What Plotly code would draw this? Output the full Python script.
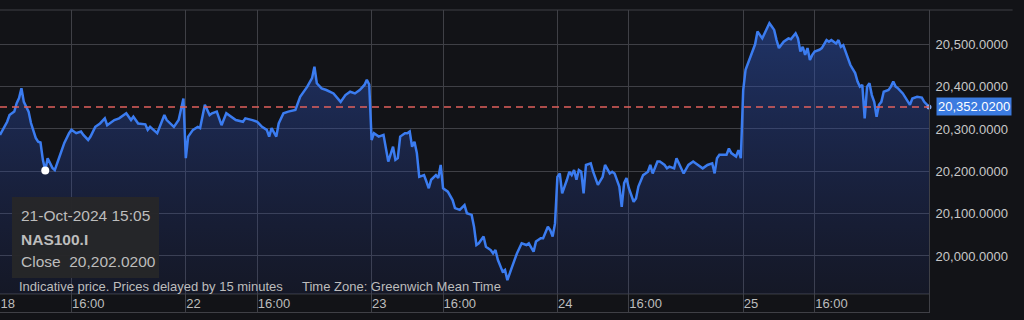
import plotly.graph_objects as go

# ---------------- data ----------------
session_dates = ["2024-10-21", "2024-10-22", "2024-10-23", "2024-10-24", "2024-10-25"]
session_open = "13:30"
session_length_min = 390

times_21 = ["13:30","13:45","13:50","14:00","14:05","14:10","14:15","14:20","14:30","14:35","14:45","14:50",
            "14:55","15:00","15:05","15:10","15:20","15:25","15:35","15:45","15:55","16:00","16:10","16:20",
            "16:25","16:35","16:40","16:50","17:00","17:10","17:15","17:30","17:40","17:55","18:05","18:10",
            "18:20","18:35","18:40","18:45","19:00","19:15","19:20","19:35","19:45","19:55"]
close_21 = [20286,20317,20333,20341,20361,20373,20396,20364,20341,20314,20279,20270,
            20268,20227,20202.02,20231,20208,20203,20235,20267,20290,20298,20290,20294,
            20286,20274,20282,20305,20313,20325,20309,20321,20325,20337,20321,20329,
            20313,20311,20298,20305,20290,20333,20321,20305,20321,20372]

times_22 = ["13:30","13:35","13:45","13:55","14:00","14:10","14:20","14:25","14:35","14:45","14:55","15:05",
            "15:15","15:30","15:35","15:50","16:00","16:10","16:20","16:25","16:30","16:40","16:45","16:55",
            "17:05","17:20","17:30","17:45","17:55","18:00","18:05","18:15","18:25","18:40","18:55","19:05",
            "19:15","19:25","19:35","19:45","19:50","19:55"]
close_22 = [20231,20282,20298,20305,20302,20357,20333,20337,20341,20309,20337,20329,
            20321,20317,20325,20321,20317,20305,20298,20282,20302,20282,20313,20337,
            20341,20345,20376,20400,20420,20447,20408,20396,20392,20384,20364,20380,
            20388,20384,20392,20404,20416,20405]

times_23 = ["13:30","13:35","13:45","13:55","14:00","14:05","14:15","14:20","14:25","14:30","14:40","14:45",
            "14:50","14:55","15:00","15:05","15:10","15:20","15:25","15:30","15:35","15:45","15:50","15:55",
            "16:00","16:10","16:20","16:25","16:35","16:45","16:50","17:00","17:05","17:10","17:15","17:25",
            "17:30","17:40","17:45","17:50","17:55","18:00","18:05","18:10","18:15","18:25","18:35","18:45",
            "18:55","19:00","19:10","19:15","19:25","19:30","19:40","19:45","19:50","19:55"]
close_23 = [20274,20290,20282,20286,20254,20223,20258,20227,20231,20282,20290,20290,
            20294,20258,20270,20243,20187,20191,20176,20160,20180,20191,20184,20215,
            20160,20152,20132,20113,20109,20120,20101,20097,20069,20026,20030,20046,
            20022,20014,20006,20014,19991,19975,19963,19967,19943,19975,20006,20030,
            20026,20030,20010,20034,20042,20042,20069,20061,20046,20077]

times_24 = ["13:30","13:35","13:40","13:50","13:55","14:00","14:05","14:10","14:15","14:20","14:25","14:30",
            "14:40","14:45","14:55","15:05","15:10","15:20","15:25","15:30","15:40","15:45","15:50","15:55",
            "16:00","16:10","16:15","16:20","16:30","16:35","16:40","16:45","16:50","17:00","17:05","17:15",
            "17:20","17:25","17:35","17:40","17:50","17:55","18:05","18:15","18:20","18:35","18:45","18:55",
            "19:00","19:05","19:10","19:25","19:30","19:35","19:45","19:50","19:55"]
close_24 = [20187,20195,20148,20180,20199,20191,20203,20180,20203,20199,20148,20215,
            20219,20199,20168,20187,20215,20195,20199,20195,20164,20116,20172,20184,
            20160,20128,20136,20164,20191,20195,20199,20215,20195,20223,20223,20215,
            20207,20211,20207,20231,20207,20195,20215,20223,20219,20207,20215,20219,
            20195,20231,20239,20239,20254,20243,20235,20250,20231]

times_25 = ["13:30","13:35","13:45","13:55","14:00","14:05","14:10","14:20","14:25","14:30","14:35","14:40",
            "14:45","14:55","15:00","15:05","15:10","15:20","15:25","15:30","15:35","15:40","15:45","15:50",
            "15:55","16:00","16:10","16:15","16:25","16:30","16:35","16:45","16:50","16:55","17:00","17:05",
            "17:15","17:25","17:30","17:35","17:40","17:45","17:50","17:55","18:00","18:05","18:10","18:15",
            "18:20","18:25","18:35","18:40","18:45","18:50","18:55","19:05","19:10","19:20","19:25","19:35",
            "19:45","19:50","20:00"]
close_25 = [20392,20440,20472,20500,20530,20522,20514,20538,20550,20542,20534,20510,
            20491,20506,20510,20514,20512,20526,20514,20483,20494,20475,20491,20463,
            20475,20483,20487,20491,20510,20506,20510,20502,20510,20494,20498,20483,
            20451,20432,20412,20400,20404,20325,20400,20408,20380,20364,20329,20357,
            20364,20388,20392,20400,20412,20400,20396,20384,20376,20357,20372,20376,
            20374,20364,20352.02]

x_tick_times = ["2024-10-21 13:30","2024-10-21 16:00","2024-10-22 13:30","2024-10-22 16:00",
                "2024-10-23 13:30","2024-10-23 16:00","2024-10-24 13:30","2024-10-24 16:00",
                "2024-10-25 13:30","2024-10-25 16:00"]
x_tick_labels = ["18","16:00","22","16:00","23","16:00","24","16:00","25","16:00"]

y_tick_values = [20000, 20100, 20200, 20300, 20400, 20500]
y_range = [19867.7, 20581.0]
chart_floor = 19910.3

symbol = "NAS100.I"
hover_time = "2024-10-21 15:05"
hover_label = "21-Oct-2024 15:05"
hover_close = 20202.02
last_price = 20352.02

# ---------------- session scale ----------------
def session_x(stamp):
    day, hm = stamp.split(" ")
    h, m = map(int, hm.split(":"))
    oh, om = map(int, session_open.split(":"))
    return session_dates.index(day) * session_length_min + (h * 60 + m) - (oh * 60 + om)

stamps, closes = [], []
for d, t, c in zip(session_dates,
                   [times_21, times_22, times_23, times_24, times_25],
                   [close_21, close_22, close_23, close_24, close_25]):
    stamps += [f"{d} {tt}" for tt in t]
    closes += c
xs = [session_x(s) for s in stamps]
x_end = len(session_dates) * session_length_min

BG = "#121317"
GRID = "#3f4046"
LINE = "#3b7cf0"
FONT = "Arial, Liberation Sans, sans-serif"

fig = go.Figure()
fig.add_trace(go.Scatter(x=xs, y=[chart_floor] * len(xs), mode="lines",
                         line=dict(width=0), hoverinfo="skip", showlegend=False))
fig.add_trace(go.Scatter(
    x=xs, y=closes, mode="lines", fill="tonexty",
    line=dict(color=LINE, width=2.5),
    fillgradient=dict(type="vertical",
                      colorscale=[[0, "rgba(40,60,150,0.12)"], [1, "rgba(45,85,185,0.50)"]],
                      start=chart_floor, stop=20560),
    hoverinfo="skip", showlegend=False))
fig.add_trace(go.Scatter(x=[session_x(hover_time)], y=[hover_close], mode="markers",
                         marker=dict(color="white", size=8), hoverinfo="skip", showlegend=False))
# small end-of-line dot on the price scale
fig.add_trace(go.Scatter(x=[x_end], y=[last_price], mode="markers", cliponaxis=False,
                         marker=dict(color="#7fa8f0", size=5), xaxis="x", hoverinfo="skip",
                         showlegend=False))

# last price dashed line
fig.add_shape(type="line", xref="paper", x0=0, x1=1, yref="y", y0=last_price, y1=last_price,
              line=dict(color="#e0605c", width=1.4, dash="7px,5px"), layer="above")
# floor line (top of time strip)
fig.add_shape(type="line", xref="paper", x0=0, x1=1, yref="y", y0=chart_floor, y1=chart_floor,
              line=dict(color=GRID, width=1), layer="below")
# top frame line
fig.add_shape(type="line", xref="paper", x0=0, x1=1.09, yref="paper", y0=1, y1=1,
              line=dict(color=GRID, width=1), layer="below")

# last price label
fig.add_annotation(xref="paper", x=1, yref="y", y=last_price, xanchor="left", yanchor="middle",
                   xshift=7, text=f"{last_price:,.4f}", showarrow=False,
                   bgcolor="#3b7be0", borderpad=1,
                   font=dict(family=FONT, size=13, color="white"))

# tooltip box
fig.add_shape(type="rect", xref="paper", yref="paper", x0=12/929, x1=159/929,
              y0=(312-278)/302, y1=(312-197)/302,
              fillcolor="rgba(38,38,41,0.96)", line=dict(width=0), layer="above")
tip_font = dict(family=FONT, size=15.5, color="#bdbdbd")
for txt, py in [(hover_label, 215), (f"<b>{symbol}</b>", 239), (f"Close  {hover_close:,.4f}", 261)]:
    fig.add_annotation(xref="paper", yref="paper", x=19/929, y=(312-py)/302, xanchor="left",
                       yanchor="middle", text=txt, showarrow=False, font=tip_font)

# footnotes
note_font = dict(family=FONT, size=13, color="#bdbdbd")
fig.add_annotation(xref="paper", yref="paper", x=17/929, y=(312-286)/302, xanchor="left",
                   yanchor="middle", text="Indicative price. Prices delayed by 15 minutes",
                   showarrow=False, font=note_font)
fig.add_annotation(xref="paper", yref="paper", x=300/929, y=(312-286)/302, xanchor="left",
                   yanchor="middle", text="Time Zone: Greenwich Mean Time",
                   showarrow=False, font=note_font)

fig.update_layout(
    width=1024, height=320, autosize=False,
    margin=dict(l=0, r=95, t=10, b=8, pad=0),
    paper_bgcolor=BG, plot_bgcolor=BG,
    showlegend=False, hovermode=False,
    font=dict(family=FONT, color="#c4c4c4"),
)
fig.update_xaxes(
    range=[0, x_end], tickmode="array",
    tickvals=[session_x(s) for s in x_tick_times], ticktext=x_tick_labels,
    ticklabelposition="inside right", ticks="", ticklabelstandoff=-2,
    showgrid=True, gridcolor=GRID, gridwidth=1, zeroline=False,
    showline=True, linecolor=GRID, linewidth=1,
    tickfont=dict(family=FONT, size=13, color="#bdbdbd"),
)
fig.update_yaxes(
    range=y_range, side="right", tickmode="array", tickvals=y_tick_values,
    tickformat=",.4f", ticks="", ticklabelstandoff=3,
    showgrid=True, gridcolor=GRID, gridwidth=1, zeroline=False,
    showline=True, linecolor=GRID, linewidth=1,
    tickfont=dict(family=FONT, size=13, color="#c8c8c8"),
)

fig.write_html("out.html")
